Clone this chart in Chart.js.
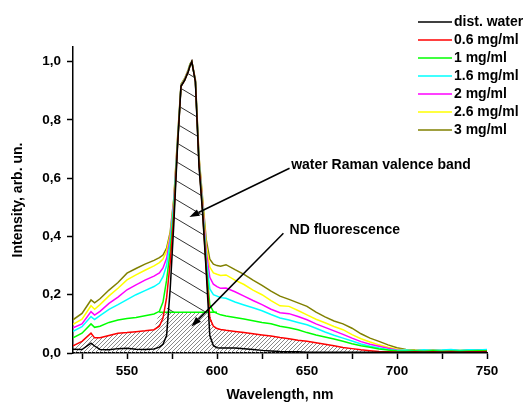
<!DOCTYPE html>
<html>
<head>
<meta charset="utf-8">
<script src="https://cdn.jsdelivr.net/npm/chart.js@4"></script>
<style>
  html, body { margin: 0; padding: 0; background: #fff; }
  #wrap { width: 529px; height: 405px; }
</style>
</head>
<body>
<div id="wrap"><canvas id="chart" width="529" height="405"></canvas></div>
<script>
// Normalised spectra, wavelength in nm
const wavelength = [
  520, 525, 530, 532, 535, 540, 545, 550, 555, 560,
  565, 568, 570, 572, 574, 576, 578, 580, 582, 584,
  585, 586, 588, 590, 592, 594, 596, 598, 600, 602,
  605, 610, 615, 620, 625, 630, 635, 640, 645, 650,
  655, 660, 665, 670, 675, 680, 685, 690, 695, 700,
  705, 710, 715, 720, 725, 730, 735, 740, 745, 750
];

const distWater = [
  0.013, 0.012, 0.034, 0.024, 0.012, 0.011, 0.015, 0.016, 0.013, 0.012,
  0.014, 0.020, 0.030, 0.060, 0.220, 0.440, 0.700, 0.915, 0.935, 0.965,
  0.985, 1.000, 0.930, 0.640, 0.480, 0.280, 0.060, 0.025, 0.018, 0.017,
  0.017, 0.017, 0.015, 0.012, 0.009, 0.007, 0.005, 0.004, 0.004, 0.003,
  0.003, 0.003, 0.003, 0.003, 0.003, 0.003, 0.003, 0.003, 0.003, 0.003,
  0.003, 0.003, 0.003, 0.003, 0.003, 0.003, 0.003, 0.003, 0.003, 0.003
];

const nd06 = [
  0.025, 0.040, 0.068, 0.052, 0.052, 0.060, 0.068, 0.070, 0.073, 0.076,
  0.080, 0.092, 0.120, 0.190, 0.310, 0.470, 0.705, 0.915, 0.935, 0.965,
  0.986, 1.000, 0.932, 0.650, 0.485, 0.290, 0.120, 0.092, 0.084, 0.081,
  0.078, 0.074, 0.070, 0.066, 0.062, 0.058, 0.053, 0.049, 0.044, 0.040,
  0.035, 0.030, 0.025, 0.019, 0.015, 0.011, 0.008, 0.005, 0.004, 0.003,
  0.003, 0.004, 0.003, 0.004, 0.003, 0.004, 0.003, 0.004, 0.004, 0.005
];

const nd1 = [
  0.052, 0.068, 0.100, 0.088, 0.092, 0.105, 0.113, 0.118, 0.122, 0.128,
  0.134, 0.143, 0.175, 0.250, 0.350, 0.490, 0.710, 0.916, 0.936, 0.966,
  0.987, 1.000, 0.933, 0.655, 0.490, 0.305, 0.165, 0.142, 0.136, 0.131,
  0.127, 0.122, 0.117, 0.111, 0.105, 0.100, 0.092, 0.087, 0.080, 0.070,
  0.062, 0.055, 0.048, 0.040, 0.032, 0.025, 0.020, 0.014, 0.010, 0.007,
  0.006, 0.007, 0.006, 0.008, 0.006, 0.007, 0.006, 0.007, 0.008, 0.008
];

const nd16 = [
  0.074, 0.090, 0.125, 0.115, 0.128, 0.150, 0.166, 0.183, 0.200, 0.214,
  0.228, 0.240, 0.262, 0.300, 0.380, 0.510, 0.715, 0.917, 0.937, 0.967,
  0.988, 1.000, 0.934, 0.660, 0.500, 0.325, 0.220, 0.200, 0.195, 0.190,
  0.188, 0.175, 0.165, 0.155, 0.145, 0.132, 0.120, 0.113, 0.105, 0.097,
  0.085, 0.072, 0.061, 0.051, 0.041, 0.031, 0.023, 0.017, 0.012, 0.009,
  0.010, 0.008, 0.011, 0.009, 0.010, 0.012, 0.009, 0.011, 0.010, 0.012
];

const nd2 = [
  0.086, 0.100, 0.142, 0.130, 0.143, 0.170, 0.192, 0.217, 0.234, 0.250,
  0.264, 0.275, 0.292, 0.325, 0.395, 0.520, 0.720, 0.918, 0.938, 0.968,
  0.988, 1.000, 0.935, 0.665, 0.510, 0.350, 0.260, 0.236, 0.228, 0.222,
  0.223, 0.210, 0.195, 0.180, 0.166, 0.150, 0.138, 0.135, 0.125, 0.114,
  0.100, 0.088, 0.076, 0.064, 0.051, 0.039, 0.030, 0.023, 0.016, 0.010,
  0.008, 0.007, 0.008, 0.007, 0.006, 0.008, 0.007, 0.006, 0.007, 0.008
];

const nd26 = [
  0.098, 0.116, 0.162, 0.150, 0.166, 0.196, 0.222, 0.251, 0.268, 0.284,
  0.299, 0.310, 0.322, 0.350, 0.405, 0.525, 0.725, 0.919, 0.939, 0.969,
  0.989, 1.000, 0.936, 0.670, 0.520, 0.370, 0.295, 0.275, 0.270, 0.266,
  0.268, 0.250, 0.235, 0.216, 0.200, 0.180, 0.162, 0.160, 0.146, 0.131,
  0.116, 0.104, 0.091, 0.080, 0.063, 0.049, 0.038, 0.028, 0.020, 0.013,
  0.010, 0.009, 0.008, 0.009, 0.008, 0.007, 0.009, 0.008, 0.008, 0.009
];

const nd3 = [
  0.114, 0.136, 0.182, 0.172, 0.186, 0.216, 0.242, 0.274, 0.290, 0.305,
  0.318, 0.327, 0.336, 0.360, 0.415, 0.530, 0.730, 0.922, 0.942, 0.972,
  0.992, 1.000, 0.938, 0.675, 0.530, 0.390, 0.322, 0.305, 0.300, 0.298,
  0.303, 0.286, 0.270, 0.250, 0.232, 0.212, 0.195, 0.184, 0.172, 0.160,
  0.140, 0.124, 0.110, 0.100, 0.085, 0.066, 0.051, 0.040, 0.028, 0.018,
  0.012, 0.010, 0.009, 0.010, 0.009, 0.010, 0.009, 0.010, 0.010, 0.011
];

const seriesLabels = ['dist. water', '0.6 mg/ml', '1 mg/ml', '1.6 mg/ml', '2 mg/ml', '2.6 mg/ml', '3 mg/ml'];
const seriesValues = [distWater, nd06, nd1, nd16, nd2, nd26, nd3];
const seriesColors = ['#000000', '#ff0000', '#00ff00', '#00ffff', '#ff00ff', '#ffff00', '#808000'];

const xTicks = [525, 550, 575, 600, 625, 650, 675, 700, 725, 750];
const yTicks = [0, 0.2, 0.4, 0.6, 0.8, 1.0];

// Raman band limits and the baseline that splits it from the fluorescence part
const bandFrom = 568;
const bandTo = 597;
const bandBase = 0.14;
const baseLineEnd = 600;

const notes = [
  { text: 'water Raman valence band', at: [641.2, 0.646], from: [640.3, 0.634], to: [584.7, 0.467] },
  { text: 'ND fluorescence', at: [640.3, 0.423], from: [636.9, 0.411], to: [585.8, 0.091] }
];

const FONT = '"Liberation Sans", Arial, sans-serif';

function hatchPattern(w, h, color, lw, dir) {
  const c = document.createElement('canvas');
  c.width = w; c.height = h;
  const g = c.getContext('2d');
  g.strokeStyle = color;
  g.lineWidth = lw;
  g.beginPath();
  for (const dy of [-h, 0, h]) {
    if (dir === 'up') {
      g.moveTo(0, h + dy); g.lineTo(w, dy);
    } else {
      g.moveTo(0, dy); g.lineTo(w, h + dy);
    }
  }
  g.stroke();
  return g.createPattern(c, 'repeat');
}

const pts = ys => wavelength.map((w, i) => ({ x: w, y: ys[i] }));
const inBand = w => w >= bandFrom && w <= bandTo;

// fluorescence area: under the 0.6 mg/ml curve, flat across the band
const ndTop = wavelength.map((w, i) => inBand(w) ? bandBase : nd06[i]);
// Raman band: water spectrum above the baseline
const ramanTop = wavelength
  .map((w, i) => ({ x: w, y: Math.max(distWater[i], bandBase) }))
  .filter(p => inBand(p.x));

const legendBox = {
  id: 'legendBox',
  afterDraw(chart) {
    const ctx = chart.ctx;
    ctx.save();
    ctx.font = 'bold 14px ' + FONT;
    ctx.textBaseline = 'middle';
    ctx.textAlign = 'left';
    seriesLabels.forEach((label, i) => {
      const y = 22 + i * 18;
      ctx.strokeStyle = seriesColors[i];
      ctx.lineWidth = 1.5;
      ctx.beginPath();
      ctx.moveTo(418, y);
      ctx.lineTo(452, y);
      ctx.stroke();
      ctx.fillStyle = '#000';
      ctx.fillText(label, 454, y);
    });
    ctx.restore();
  }
};

const arrowNotes = {
  id: 'arrowNotes',
  afterDatasetsDraw(chart) {
    const { ctx, scales: { x, y } } = chart;
    ctx.save();
    ctx.font = 'bold 14px ' + FONT;
    ctx.textBaseline = 'middle';
    ctx.fillStyle = '#000';
    ctx.strokeStyle = '#000';
    ctx.lineWidth = 1.5;
    notes.forEach(n => {
      ctx.fillText(n.text, x.getPixelForValue(n.at[0]), y.getPixelForValue(n.at[1]));
      const x0 = x.getPixelForValue(n.from[0]), y0 = y.getPixelForValue(n.from[1]);
      const x1 = x.getPixelForValue(n.to[0]), y1 = y.getPixelForValue(n.to[1]);
      const a = Math.atan2(y1 - y0, x1 - x0);
      const len = 10, half = 3.5;
      const bx = x1 - len * Math.cos(a), by = y1 - len * Math.sin(a);
      ctx.beginPath();
      ctx.moveTo(x0, y0);
      ctx.lineTo(bx, by);
      ctx.stroke();
      ctx.beginPath();
      ctx.moveTo(x1, y1);
      ctx.lineTo(bx + half * Math.sin(a), by - half * Math.cos(a));
      ctx.lineTo(bx - half * Math.sin(a), by + half * Math.cos(a));
      ctx.closePath();
      ctx.fill();
    });
    ctx.restore();
  }
};

const datasets = [
  {
    data: pts(ndTop),
    order: 30,
    borderWidth: 0,
    borderColor: 'transparent',
    backgroundColor: hatchPattern(4, 4, '#7a7a7a', 0.9, 'up'),
    fill: 'origin'
  },
  {
    data: ramanTop,
    order: 29,
    borderWidth: 0,
    borderColor: 'transparent',
    backgroundColor: hatchPattern(32, 19, '#333333', 1, 'down'),
    fill: { value: bandBase }
  },
  {
    data: [{ x: bandFrom, y: bandBase }, { x: baseLineEnd, y: bandBase }],
    order: 9,
    borderWidth: 1.5,
    borderColor: '#00ff00',
    fill: false
  }
];

seriesValues.forEach((vals, i) => {
  datasets.push({
    label: seriesLabels[i],
    data: pts(vals),
    order: i + 1,
    borderColor: seriesColors[i],
    borderWidth: 1.5,
    fill: false
  });
});

const axisFont = { family: FONT, size: 13.5, weight: 'bold' };
const titleFont = { family: FONT, size: 14, weight: 'bold' };

new Chart(document.getElementById('chart'), {
  type: 'line',
  data: { datasets },
  plugins: [legendBox, arrowNotes],
  options: {
    responsive: false,
    animation: false,
    devicePixelRatio: 1,
    events: [],
    layout: { padding: { top: 47, right: 42, left: 0, bottom: 0 } },
    elements: { point: { radius: 0 }, line: { tension: 0 } },
    plugins: { legend: { display: false }, tooltip: { enabled: false } },
    scales: {
      x: {
        type: 'linear',
        min: 520,
        max: 750,
        afterBuildTicks: s => { s.ticks = xTicks.map(v => ({ value: v })); },
        afterFit: s => { s.height = 52; },
        ticks: {
          autoSkip: false,
          maxRotation: 0,
          padding: 4,
          color: '#000',
          font: axisFont,
          callback: v => (v % 50 === 0 ? String(v) : '')
        },
        grid: { drawOnChartArea: false, drawTicks: true, tickLength: 6, tickWidth: 1.5, tickColor: '#000' },
        border: { display: true, color: '#000', width: 1.5 },
        title: { display: true, text: 'Wavelength, nm', color: '#000', font: titleFont, padding: { top: 0, bottom: 1 } }
      },
      y: {
        type: 'linear',
        min: 0,
        max: 1.05,
        afterBuildTicks: s => { s.ticks = yTicks.map(v => ({ value: v })); },
        afterFit: s => { s.width = 73; },
        ticks: {
          padding: 6,
          color: '#000',
          font: axisFont,
          callback: v => v.toFixed(1).replace('.', ',')
        },
        grid: { drawOnChartArea: false, drawTicks: true, tickLength: 6, tickWidth: 1.5, tickColor: '#000' },
        border: { display: true, color: '#000', width: 1.5 },
        title: { display: true, text: 'Intensity, arb. un.', color: '#000', font: titleFont, padding: { top: 10, bottom: 0 } }
      }
    }
  }
});
</script>
</body>
</html>
